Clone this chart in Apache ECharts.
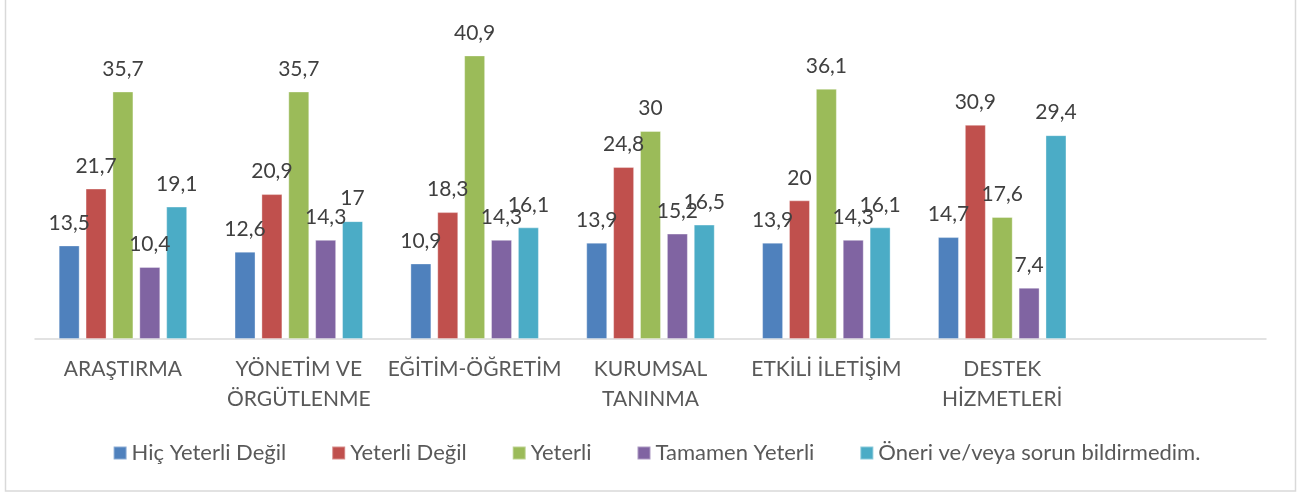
<!DOCTYPE html>
<html>
<head>
<meta charset="utf-8">
<script src="https://cdn.jsdelivr.net/npm/echarts@6/dist/echarts.min.js"></script>
<style>
html,body{margin:0;padding:0;background:#fff;}
#chart{width:1313px;height:493px;}
</style>
</head>
<body>
<div id="chart"></div>
<script>
const categories = ['ARAŞTIRMA', 'YÖNETİM VE\nÖRGÜTLENME', 'EĞİTİM-ÖĞRETİM', 'KURUMSAL\nTANINMA', 'ETKİLİ İLETİŞİM', 'DESTEK\nHİZMETLERİ', ''];
const seriesNames = ['Hiç Yeterli Değil', 'Yeterli Değil', 'Yeterli', 'Tamamen Yeterli', 'Öneri ve/veya sorun bildirmedim.'];
const hicYeterliDegil = [13.5, 12.6, 10.9, 13.9, 13.9, 14.7];
const yeterliDegil = [21.7, 20.9, 18.3, 24.8, 20, 30.9];
const yeterli = [35.7, 35.7, 40.9, 30, 36.1, 17.6];
const tamamenYeterli = [10.4, 14.3, 14.3, 15.2, 14.3, 7.4];
const oneriYok = [19.1, 17, 16.1, 16.5, 16.1, 29.4];
const colors = ['#4F81BD', '#C0504D', '#9BBB59', '#8064A2', '#4BACC6'];

const allData = [hicYeterliDegil, yeterliDegil, yeterli, tamamenYeterli, oneriYok];
const chart = echarts.init(document.getElementById('chart'));
const FONT = 'Lato';
chart.setOption({
  animation: false,
  color: colors,
  graphic: [{
    type: 'rect',
    shape: {x: 5.5, y: -5, width: 1290, height: 496},
    style: {fill: 'none', stroke: '#d9d9d9', lineWidth: 1.5},
    silent: true
  }],
  grid: {left: 35, right: 47, top: 27, bottom: 154},
  legend: {
    top: 437,
    left: 'center',
    itemWidth: 13,
    itemHeight: 13,
    itemGap: 45,
    icon: 'rect',
    textStyle: {fontFamily: FONT, fontSize: 22, color: '#595959', padding: [0, 0, 0, 0]},
    data: seriesNames
  },
  xAxis: {
    type: 'category',
    data: categories,
    axisLine: {lineStyle: {color: '#d9d9d9', width: 1.5}},
    axisTick: {show: false},
    axisLabel: {
      fontFamily: FONT, fontSize: 21, color: '#595959', lineHeight: 30, margin: 15, interval: 0
    }
  },
  yAxis: {
    type: 'value', min: 0, max: 45,
    show: false,
    splitLine: {show: false}
  },
  series: allData.map((d, i) => ({
    name: seriesNames[i],
    type: 'bar',
    data: d,
    barWidth: 21,
    barGap: '28%',
    itemStyle: {color: colors[i], borderColor: 'rgba(255,255,255,0.35)', borderWidth: 1},
    label: {
      show: true,
      position: 'top',
      distance: 12,
      fontFamily: FONT,
      fontSize: 21,
      color: '#404040',
      formatter: p => String(p.value).replace('.', ',')
    }
  }))
});
</script>
</body>
</html>
